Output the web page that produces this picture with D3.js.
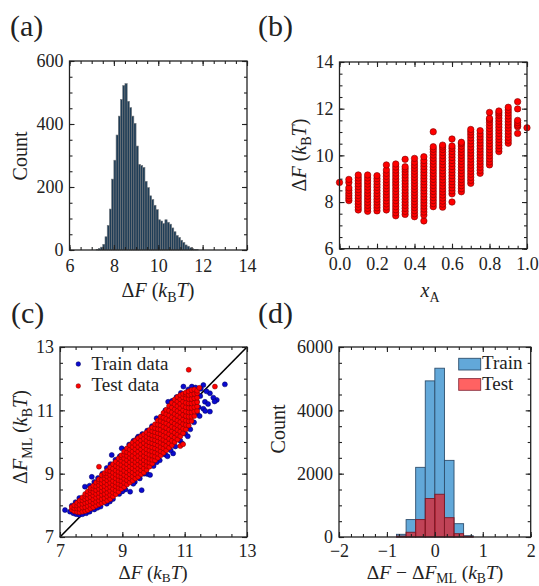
<!DOCTYPE html>
<html><head><meta charset="utf-8">
<script src="https://cdn.jsdelivr.net/npm/d3@7"></script>
<style>
body{margin:0;background:#fff}
svg text{font-family:"Liberation Serif","Times New Roman",serif;fill:#222}
</style></head><body>
<svg id="fig" width="539" height="586"></svg>
<script>
// ---------- (a) histogram of ΔF ----------
const histBinStart = [7.2,7.3,7.4,7.5,7.6,7.7,7.8,7.9,8.0,8.1,8.2,8.3,8.4,8.5,8.6,8.7,8.8,8.9,9.0,9.1,9.2,9.3,9.4,9.5,9.6,9.7,9.8,9.9,10.0,10.1,10.2,10.3,10.4,10.5,10.6,10.7,10.8,10.9,11.0,11.1,11.2,11.3,11.4,11.5,11.6,11.7];
const histCounts = [2,5,9,18,42,78,130,225,285,365,425,478,522,528,472,452,425,402,330,272,268,262,218,198,172,160,142,128,96,92,84,96,88,82,70,58,46,40,31,24,16,12,7,4,2,1];
const histBinWidth = 0.1;

// ---------- (b) ΔF versus composition x_A ----------
const xAValues = [0.0,0.05,0.1,0.15,0.2,0.25,0.3,0.35,0.4,0.45,0.5,0.55,0.6,0.65,0.7,0.75,0.8,0.85,0.9,0.95,1.0];
const dFByComposition = [
  [8.84],
  [8.06,8.16,8.27,8.38,8.5,8.61,8.84,8.97],
  [7.66,7.78,7.91,8.03,8.16,8.28,8.41,8.53,8.66,8.78,8.91,9.03,9.16],
  [7.6,7.73,7.86,7.99,8.12,8.25,8.38,8.51,8.64,8.77,8.9,9.03,9.16],
  [7.62,7.75,7.87,8.0,8.12,8.25,8.37,8.5,8.63,8.75,8.88,9.0,9.13],
  [7.66,7.79,7.92,8.05,8.18,8.31,8.44,8.57,8.7,8.83,8.96,9.1,9.23,9.37,9.59],
  [7.41,7.54,7.67,7.8,7.93,8.06,8.19,8.32,8.45,8.58,8.72,8.85,8.98,9.11,9.24,9.37,9.5,9.63],
  [7.47,7.6,7.73,7.86,7.99,8.12,8.25,8.38,8.51,8.64,8.77,8.9,9.03,9.16,9.29,9.41,9.51,9.83],
  [7.37,7.5,7.63,7.76,7.89,8.02,8.15,8.28,8.41,8.54,8.67,8.8,8.93,9.06,9.19,9.32,9.45,9.58,9.71,9.87],
  [7.19,7.44,7.57,7.7,7.83,7.96,8.09,8.22,8.35,8.48,8.61,8.74,8.87,9.0,9.13,9.26,9.39,9.52,9.65,9.78,9.94],
  [7.8,7.93,8.06,8.19,8.32,8.45,8.58,8.71,8.84,8.97,9.1,9.23,9.36,9.49,9.62,9.75,9.88,10.01,10.14,10.26,10.37,11.01],
  [7.78,7.91,8.04,8.17,8.3,8.43,8.56,8.69,8.82,8.95,9.08,9.21,9.34,9.47,9.6,9.73,9.86,9.99,10.12,10.25,10.36,10.44],
  [8.0,8.35,8.48,8.61,8.74,8.87,9.0,9.13,9.26,9.39,9.52,9.65,9.78,9.91,10.04,10.17,10.3,10.4,10.7],
  [8.44,8.57,8.7,8.83,8.96,9.09,9.22,9.35,9.48,9.61,9.74,9.87,10.0,10.13,10.26,10.39,10.5,10.56],
  [8.8,8.93,9.06,9.19,9.32,9.45,9.58,9.71,9.84,9.97,10.1,10.23,10.36,10.49,10.62,10.75,10.88,11.0,11.11],
  [9.23,9.36,9.49,9.62,9.75,9.88,10.01,10.14,10.27,10.4,10.53,10.66,10.79,10.92,11.06],
  [9.59,9.72,9.85,9.98,10.11,10.24,10.37,10.5,10.63,10.76,10.89,11.02,11.15,11.28,11.41,11.52,11.59,11.84],
  [10.16,10.29,10.42,10.55,10.68,10.81,10.94,11.07,11.2,11.33,11.46,11.59,11.72,11.82,11.9],
  [10.52,10.65,10.78,10.91,11.04,11.17,11.3,11.43,11.56,11.69,11.82,11.94,12.06],
  [10.94,11.23,11.3,11.4,11.5,11.99,12.3],
  [11.18]
];

// ---------- (c) parity plot: ΔF_ML against ΔF ----------
// training points (pairs [ΔF, ΔF_ML])
const trainPoints = [
  [7.16,7.85],[7.32,7.8],[7.43,7.75],[7.52,7.72],[7.62,7.7],[7.72,7.72],[7.84,7.75],[7.38,7.99],[7.5,8.1],[7.62,8.23],
  [7.8,8.59],[8.02,8.9],[7.95,8.62],[8.1,8.74],[8.22,8.86],[8.36,9.0],[8.5,9.18],[8.66,9.59],[8.62,9.3],[8.78,9.44],
  [8.98,9.8],[8.92,9.55],[9.1,9.76],[9.22,9.92],[9.36,10.04],[9.51,10.17],[9.48,10.12],[9.64,10.25],[9.8,10.36],[9.95,10.5],
  [10.1,10.75],[10.26,10.8],[10.2,10.72],[10.38,11.0],[10.47,11.27],[10.6,11.3],[10.74,11.42],[10.88,11.55],[10.96,11.75],[11.23,11.75],
  [11.6,11.8],[12.29,11.82],[11.81,11.54],[12.03,11.33],[11.81,10.96],[11.65,11.27],[11.39,11.27],[11.5,11.45],[11.7,11.6],[11.92,11.4],
  [11.45,11.1],[11.6,11.05],[11.52,11.68],[11.35,11.72],[11.12,11.66],[11.75,11.2],[11.96,11.28],[11.4,10.9],
  [7.95,7.8],[8.1,7.87],[8.3,7.96],[8.5,8.05],[8.7,8.2],[8.9,8.36],[9.1,8.5],[9.25,8.43],[9.62,8.48],[9.4,8.74],
  [9.56,8.85],[9.8,8.99],[9.89,8.96],[10.0,9.24],[10.2,9.42],[10.38,9.6],[10.63,9.64],[10.7,9.86],[10.55,9.74],[10.86,10.04],
  [11.02,10.26],[11.18,10.4],[11.3,10.62],[11.48,10.82],[11.66,10.98],[10.53,10.17],[10.1,9.36],[9.7,9.0],[8.6,8.12],[8.2,7.92],
  [9.0,8.44],[9.35,8.68],[10.92,9.95],[10.45,9.55],[11.1,10.18]
];
// test points grouped by ΔF: [ΔF, [ΔF_ML values]]
const testColumns = [
  [7.38,[7.86,7.95]],
  [7.46,[7.81,7.91,8.0]],
  [7.55,[7.79,7.9,7.99,8.08]],
  [7.63,[7.78,7.89,8.02,8.15]],
  [7.72,[7.8,7.93,8.05,8.16,8.25]],
  [7.81,[7.82,7.94,8.07,8.19,8.29,8.36]],
  [7.89,[7.85,7.98,8.1,8.22,8.34,8.44]],
  [7.98,[7.9,8.02,8.13,8.26,8.38,8.48,8.55]],
  [8.07,[7.94,8.07,8.19,8.31,8.42,8.53,8.62]],
  [8.16,[7.99,8.11,8.24,8.36,8.48,8.6,8.72]],
  [8.25,[8.03,8.15,8.27,8.39,8.52,8.64,8.75,8.82,9.22]],
  [8.34,[8.07,8.2,8.33,8.45,8.57,8.69,8.81,8.95]],
  [8.43,[8.11,8.23,8.36,8.49,8.61,8.73,8.86,8.96,9.02]],
  [8.52,[8.15,8.28,8.4,8.53,8.66,8.79,8.91,9.02,9.1]],
  [8.61,[8.2,8.33,8.46,8.58,8.71,8.84,8.96,9.08,9.2]],
  [8.7,[8.28,8.4,8.52,8.65,8.77,8.9,9.03,9.16,9.3]],
  [8.79,[8.35,8.47,8.6,8.72,8.85,8.97,9.1,9.24,9.38]],
  [8.88,[8.43,8.55,8.68,8.8,8.93,9.06,9.19,9.32,9.48]],
  [8.97,[8.52,8.64,8.77,8.9,9.02,9.15,9.28,9.41,9.52,9.58]],
  [9.06,[8.58,8.71,8.84,8.96,9.09,9.22,9.35,9.48,9.6,9.7]],
  [9.15,[8.66,8.79,8.91,9.04,9.17,9.3,9.43,9.56,9.68,9.8]],
  [9.24,[8.72,8.85,8.98,9.1,9.23,9.36,9.5,9.63,9.76,9.9]],
  [9.33,[8.78,8.91,9.04,9.17,9.3,9.43,9.56,9.7,9.84,9.98]],
  [9.42,[8.85,8.98,9.11,9.24,9.37,9.5,9.64,9.77,9.91,10.05]],
  [9.51,[8.9,9.03,9.16,9.29,9.42,9.56,9.7,9.84,9.98,10.12]],
  [9.6,[8.98,9.11,9.24,9.37,9.5,9.63,9.77,9.91,10.05,10.18]],
  [9.69,[9.04,9.17,9.3,9.43,9.56,9.69,9.83,9.97,10.1,10.24]],
  [9.78,[9.12,9.25,9.38,9.51,9.64,9.77,9.9,10.04,10.17,10.3]],
  [9.87,[9.22,9.35,9.47,9.6,9.73,9.86,9.99,10.12,10.25,10.38]],
  [9.96,[9.32,9.44,9.57,9.7,9.83,9.96,10.09,10.21,10.34,10.46]],
  [10.05,[9.42,9.54,9.67,9.8,9.93,10.06,10.19,10.31,10.44,10.56]],
  [10.14,[9.5,9.63,9.76,9.89,10.02,10.15,10.28,10.41,10.55,10.68]],
  [10.23,[9.58,9.71,9.84,9.98,10.11,10.25,10.39,10.53,10.67,10.8]],
  [10.32,[9.66,9.8,9.93,10.07,10.2,10.34,10.48,10.62,10.77,10.92]],
  [10.41,[9.74,9.88,10.02,10.16,10.3,10.44,10.59,10.73,10.88,11.02]],
  [10.5,[9.82,9.96,10.1,10.25,10.39,10.54,10.69,10.84,10.99,11.14]],
  [10.59,[9.9,10.04,10.19,10.34,10.48,10.63,10.78,10.94,11.09,11.24]],
  [10.68,[10.0,10.14,10.29,10.44,10.58,10.73,10.88,11.03,11.19,11.34]],
  [10.77,[10.08,10.23,10.38,10.53,10.68,10.83,10.98,11.13,11.28,11.42]],
  [10.86,[9.87,10.18,10.33,10.48,10.63,10.78,10.93,11.07,11.21,11.35,11.48]],
  [10.95,[9.93,10.28,10.42,10.57,10.71,10.86,11.0,11.14,11.28,11.41,11.52]],
  [11.04,[10.4,10.54,10.68,10.82,10.96,11.1,11.24,11.38,11.5,11.56]],
  [11.13,[10.52,10.66,10.8,10.94,11.08,11.22,11.36,11.49,11.6,12.28]],
  [11.22,[10.66,10.8,10.94,11.08,11.22,11.36,11.5,11.64]],
  [11.31,[10.82,10.96,11.1,11.24,11.38,11.52,11.66]],
  [11.4,[10.98,11.12,11.26,11.4,11.54,11.62]],
  [11.47,[11.71]],
  [11.97,[11.75]]
];

// ---------- (d) residual histograms ----------
const residBinStart = [-0.8,-0.6,-0.4,-0.2,0.0,0.2,0.4,0.6];
const residBinWidth = 0.2;
const residTrain = [85,550,2200,4930,5330,2420,420,40];
const residTest = [30,150,550,1215,1350,610,105,20];

// ---------- tick values ----------
const aXTicks = [6,8,10,12,14], aYTicks = [0,200,400,600];
const bXTicks = [0,0.2,0.4,0.6,0.8,1.0], bYTicks = [6,8,10,12,14];
const cTicks = [7,9,11,13];
const dXTicks = [-2,-1,0,1,2], dYTicks = [0,2000,4000,6000];

const svg = d3.select("#fig");
const INK = "#222";
const SERIF = '"Liberation Serif", serif';

function rangeStep(a, b, s) { const out = []; for (let v = a; v <= b + 1e-9; v += s) out.push(+v.toFixed(4)); return out; }

function panel(box, xDom, yDom) {
  const g = svg.append("g").attr("transform", `translate(${box.l},${box.t})`);
  const x = d3.scaleLinear().domain(xDom).range([0, box.w]);
  const y = d3.scaleLinear().domain(yDom).range([box.h, 0]);
  return {g, x, y, w: box.w, h: box.h};
}

function axes(p, xMaj, xMin, yMaj, yMin, xFmt, yFmt, xPad = 9) {
  const {g, x, y, w, h} = p;
  const defs = [
    [d3.axisBottom(x).tickValues(xMin).tickSize(-3).tickFormat(""), `translate(0,${h})`],
    [d3.axisTop(x).tickValues(xMin).tickSize(-3).tickFormat(""), `translate(0,0)`],
    [d3.axisLeft(y).tickValues(yMin).tickSize(-3).tickFormat(""), `translate(0,0)`],
    [d3.axisRight(y).tickValues(yMin).tickSize(-3).tickFormat(""), `translate(${w},0)`],
    [d3.axisBottom(x).tickValues(xMaj).tickSize(-5).tickPadding(xPad).tickFormat(xFmt), `translate(0,${h})`],
    [d3.axisTop(x).tickValues(xMaj).tickSize(-5).tickFormat(""), `translate(0,0)`],
    [d3.axisLeft(y).tickValues(yMaj).tickSize(-5).tickPadding(6).tickFormat(yFmt), `translate(0,0)`],
    [d3.axisRight(y).tickValues(yMaj).tickSize(-5).tickFormat(""), `translate(${w},0)`]
  ];
  defs.forEach(([ax, tr]) => {
    const a = g.append("g").attr("transform", tr).attr("font-family", SERIF).call(ax);
    a.select(".domain").remove();
    a.selectAll("line").attr("stroke", INK).attr("stroke-width", 1.1);
    a.selectAll("text").attr("font-size", 18).attr("font-family", SERIF).attr("fill", INK);
  });
  g.append("rect").attr("width", w).attr("height", h)
    .attr("fill", "none").attr("stroke", INK).attr("stroke-width", 1.3);
}

// rich text built from pieces: i = italic, sub = subscript
function mathText(sel, parts, size, subShift = 0.24) {
  let shift = 0;
  parts.forEach(pt => {
    const ts = sel.append("tspan").text(pt.t);
    if (pt.i) ts.attr("font-style", "italic");
    const target = pt.sub ? size * subShift : 0;
    if (target !== shift) { ts.attr("dy", target - shift); shift = target; }
    if (pt.sub) ts.attr("font-size", size * 0.7);
  });
  return sel;
}

function xTitle(parts, cx, base, size = 20, subShift = 0.24) {
  mathText(svg.append("text").attr("x", cx).attr("y", base).attr("text-anchor", "middle").attr("font-size", size), parts, size, subShift);
}
function yTitle(parts, bx, cy, size = 20) {
  mathText(svg.append("text").attr("transform", `translate(${bx},${cy}) rotate(-90)`).attr("text-anchor", "middle").attr("font-size", size), parts, size);
}

const dF_kT = [{t:"Δ"},{t:"F",i:true},{t:" ("},{t:"k",i:true},{t:"B",sub:true},{t:"T",i:true},{t:")"}];

// ====== (a) ======
{
  const p = panel({l:69.5, t:61, w:177.5, h:189}, [6,14], [0,600]);
  p.g.selectAll("rect.bar").data(histCounts).join("rect").attr("class","bar")
    .attr("x", (d,i) => p.x(histBinStart[i]))
    .attr("width", (d,i) => p.x(histBinStart[i] + histBinWidth) - p.x(histBinStart[i]))
    .attr("y", d => p.y(d)).attr("height", d => p.y(0) - p.y(d))
    .attr("fill", "#1f3d57").attr("stroke", "#70757a").attr("stroke-width", 0.6);
  axes(p, aXTicks, rangeStep(6,14,0.5), aYTicks, rangeStep(0,600,50), d3.format("d"), d3.format("d"));
  xTitle(dF_kT, 158, 297);
  yTitle([{t:"Count"}], 27, 156);
}

// ====== (b) ======
{
  const p = panel({l:339.5, t:62, w:187.5, h:186.7}, [0,1], [6,14]);
  const pts = [];
  dFByComposition.forEach((col, i) => col.forEach(v => pts.push([xAValues[i], v])));
  p.g.selectAll("circle").data(pts).join("circle")
    .attr("cx", d => p.x(d[0])).attr("cy", d => p.y(d[1])).attr("r", 3.2)
    .attr("fill", "#ff0000").attr("stroke", "#7a0000").attr("stroke-width", 0.6);
  axes(p, bXTicks, rangeStep(0,1,0.05), bYTicks, rangeStep(6,14,0.5), d3.format(".1f"), d3.format("d"));
  xTitle([{t:"x",i:true},{t:"A",sub:true}], 430, 297);
  yTitle(dF_kT, 306, 155);
}

// ====== (c) ======
{
  const p = panel({l:60, t:347, w:187, h:190}, [7,13], [7,13]);
  p.g.append("line").attr("x1", p.x(7)).attr("y1", p.y(7)).attr("x2", p.x(13)).attr("y2", p.y(13))
    .attr("stroke", "#000").attr("stroke-width", 1.6);
  p.g.append("g").selectAll("circle").data(trainPoints).join("circle")
    .attr("cx", d => p.x(d[0])).attr("cy", d => p.y(d[1])).attr("r", 2.5)
    .attr("fill", "#0a0ad0").attr("stroke", "#00005a").attr("stroke-width", 0.5);
  const tp = [];
  testColumns.forEach(([xv, ys]) => ys.forEach(v => tp.push([xv, v])));
  p.g.append("g").selectAll("circle").data(tp).join("circle")
    .attr("cx", d => p.x(d[0])).attr("cy", d => p.y(d[1])).attr("r", 2.5)
    .attr("fill", "#ff0000").attr("stroke", "#700000").attr("stroke-width", 0.5);
  axes(p, cTicks, rangeStep(7,13,0.5), cTicks, rangeStep(7,13,0.5), d3.format("d"), d3.format("d"), 7);
  // legend
  const lg = svg.append("g");
  lg.append("circle").attr("cx", 78.3).attr("cy", 364).attr("r", 2.3).attr("fill", "#0a0ad0").attr("stroke", "#00005a").attr("stroke-width", 0.5);
  lg.append("text").attr("x", 91.5).attr("y", 369.5).attr("font-size", 19).text("Train data");
  lg.append("circle").attr("cx", 78.3).attr("cy", 386).attr("r", 2.3).attr("fill", "#ff0000").attr("stroke", "#700000").attr("stroke-width", 0.5);
  lg.append("text").attr("x", 91.5).attr("y", 391).attr("font-size", 19).text("Test data");
  xTitle(dF_kT, 153, 579, 19, 0.18);
  yTitle([{t:"Δ"},{t:"F",i:true},{t:"ML",sub:true},{t:" ("},{t:"k",i:true},{t:"B",sub:true},{t:"T",i:true},{t:")"}], 27, 437);
}

// ====== (d) ======
{
  const p = panel({l:339, t:347, w:191.7, h:190}, [-2,2], [0,6000]);
  const bars = (vals, fill, stroke, op) => p.g.append("g").selectAll("rect").data(vals).join("rect")
    .attr("x", (d,i) => p.x(residBinStart[i]))
    .attr("width", (d,i) => p.x(residBinStart[i] + residBinWidth) - p.x(residBinStart[i]))
    .attr("y", d => p.y(d)).attr("height", d => p.y(0) - p.y(d))
    .attr("fill", fill).attr("fill-opacity", op).attr("stroke", stroke).attr("stroke-width", 0.9);
  bars(residTrain, "#62a8d9", "#2e4f6e", 1);
  bars(residTest, "#ff0000", "#7a1a28", 0.6);
  axes(p, dXTicks, rangeStep(-2,2,0.25), dYTicks, rangeStep(0,6000,500), d3.format("d"), d3.format("d"), 7);
  // legend
  const lg = svg.append("g");
  lg.append("rect").attr("x", 458.7).attr("y", 358.3).attr("width", 22).attr("height", 11.7)
    .attr("fill", "#62a8d9").attr("stroke", "#2e4f6e").attr("stroke-width", 0.9);
  lg.append("text").attr("x", 482).attr("y", 369).attr("font-size", 19).text("Train");
  lg.append("rect").attr("x", 458.7).attr("y", 378.6).attr("width", 22).attr("height", 11.7)
    .attr("fill", "#ff6262").attr("stroke", "#8a3040").attr("stroke-width", 0.9);
  lg.append("text").attr("x", 482).attr("y", 389.5).attr("font-size", 19).text("Test");
  xTitle([{t:"Δ"},{t:"F",i:true},{t:" − Δ"},{t:"F",i:true},{t:"ML",sub:true},{t:" ("},{t:"k",i:true},{t:"B",sub:true},{t:"T",i:true},{t:")"}], 435, 579, 19.5, 0.18);
  yTitle([{t:"Count"}], 285, 429);
}

// panel letters
[["(a)",10,36],["(b)",258,36],["(c)",11,323],["(d)",258,323]].forEach(([s,x,y]) =>
  svg.append("text").attr("x", x).attr("y", y).attr("font-size", 30).text(s));
</script></body></html>
